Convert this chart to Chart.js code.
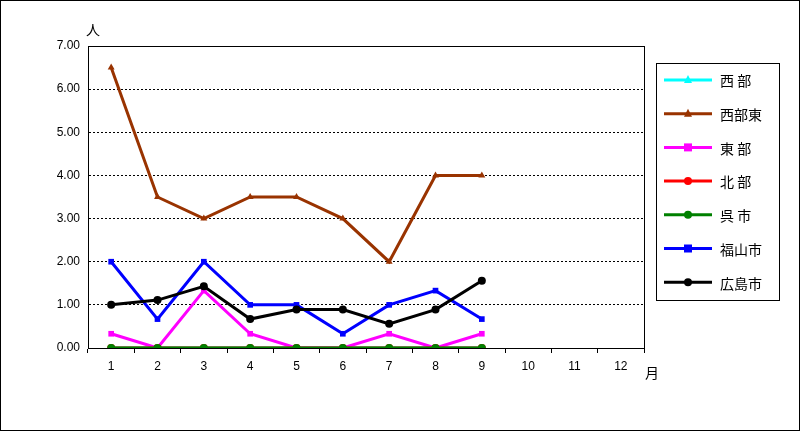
<!DOCTYPE html>
<html><head><meta charset="utf-8">
<script src="https://cdn.jsdelivr.net/npm/chart.js@4"></script>
<style>body{margin:0;background:#fff}#wrap{width:800px;height:431px;position:relative}</style>
</head><body><div id="wrap"><canvas id="c" width="800" height="431"></canvas></div>
<script>
const months = ['1','2','3','4','5','6','7','8','9','10','11','12'];
const names = ['西 部','西部東','東 部','北 部','呉 市','福山市','広島市'];
const colors = ['#00ffff','#993300','#ff00ff','#ff0000','#008000','#0000ff','#000000'];
const markers = ['triangle','triangle','rect','circle','circle','rect','circle'];
const seibu = [0,0,0,0,0,0,0,0,0];
const seibuHigashi = [6.5,3.5,3,3.5,3.5,3,2,4,4];
const toubu = [0.33,0,1.33,0.33,0,0,0.33,0,0.33];
const hokubu = [0,0,0,0,0,0,0,0,0];
const kure = [0,0,0,0,0,0,0,0,0];
const fukuyama = [2,0.67,2,1,1,0.33,1,1.33,0.67];
const hiroshima = [1,1.11,1.43,0.67,0.89,0.89,0.56,0.89,1.56];
const yTicks = [0,1,2,3,4,5,6,7];
const series = [seibu,seibuHigashi,toubu,hokubu,kure,fukuyama,hiroshima];

const font = {family:'"Liberation Sans", Arial', size:12};
const frame = {
  id:'frame',
  beforeDraw(ch){
    const c=ch.ctx;
    c.save();
    c.fillStyle='#fff';c.fillRect(0,0,800,431);
    c.strokeStyle='#000';c.lineWidth=1;
    c.strokeRect(0.5,0.5,799,430);
    c.restore();
  },
  afterDraw(ch){
    const c=ch.ctx, a=ch.chartArea;
    c.save();
    c.strokeStyle='#000';c.lineWidth=1;c.setLineDash([]);
    c.strokeRect(Math.round(a.left)+0.5,Math.round(a.top)+0.5,Math.round(a.width),Math.round(a.height));
    c.fillStyle='#000';c.font='14px "Noto Sans CJK JP"';
    c.textAlign='center';c.textBaseline='middle';
    c.fillText('人',93,30);c.fillText('月',652,373);
    // legend
    c.strokeRect(656.5,63.5,123,237);
    c.textAlign='left';
    names.forEach((n,i)=>{
      const y=80+i*33.7;
      c.strokeStyle=colors[i];c.fillStyle=colors[i];c.lineWidth=3;
      c.beginPath();c.moveTo(664,y);c.lineTo(712,y);c.stroke();
      c.beginPath();
      if(markers[i]==='rect'){c.rect(684,y-4,8,8);}
      else if(markers[i]==='circle'){c.arc(688,y,4,0,Math.PI*2);}
      else {c.moveTo(688,y-5);c.lineTo(692,y+3);c.lineTo(684,y+3);c.closePath();}
      c.fill();
      c.fillStyle='#000';c.fillText(n,720,y+1);
    });
    c.restore();
  }
};
new Chart(document.getElementById('c'),{
  type:'line',
  data:{labels:months,datasets:series.map((d,i)=>({
    label:names[i],data:d,borderColor:colors[i],backgroundColor:colors[i],
    borderWidth:3,pointStyle:markers[i],pointRadius:4,pointBorderWidth:0,
    order:7-i,tension:0
  }))},
  options:{
    responsive:false,animation:false,
    layout:{padding:{top:46,right:156,left:0,bottom:0}},
    plugins:{legend:{display:false},tooltip:{enabled:false}},
    scales:{
      x:{offset:true,grid:{display:true,drawOnChartArea:false,offset:true,color:'#000',tickLength:5},
         border:{color:'#000'},ticks:{color:'#000',font,padding:6},
         afterFit(s){s.height=83;}},
      y:{min:0,max:7,afterBuildTicks(s){s.ticks=yTicks.map(v=>({value:v}));},
         grid:{color:'#000',drawTicks:false,lineWidth:1},
         border:{color:'#000',dash:[2,2]},
         ticks:{color:'#000',font,padding:8,callback:v=>v.toFixed(2)},
         afterFit(s){s.width=88;}}
    }
  },
  plugins:[frame]
});
</script></body></html>
